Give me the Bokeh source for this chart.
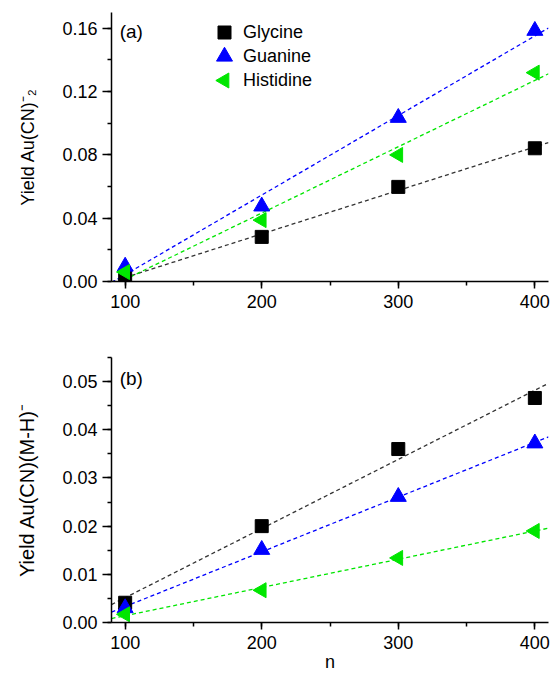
import numpy as np
from bokeh.plotting import figure
from bokeh.layouts import column
from bokeh.models import (Range1d, Legend, LegendItem, Label, SingleIntervalTicker,
                          NumeralTickFormatter)
from bokeh.embed import file_html
from bokeh.resources import INLINE

# ---- data ----
n_values = [100, 200, 300, 400]
glycine_a = [0.0030, 0.0282, 0.0598, 0.0842]
guanine_a = [0.0095, 0.0475, 0.1035, 0.1585]
histidine_a = [0.0060, 0.0388, 0.0800, 0.1320]
glycine_b = [0.0041, 0.0200, 0.0360, 0.0466]
guanine_b = [0.0030, 0.0151, 0.0261, 0.0372]
histidine_b = [0.0017, 0.0067, 0.0134, 0.0190]
series_names = ["Glycine", "Guanine", "Histidine"]

FONT = "Liberation Sans"
COLORS = ["#000000", "#0000ff", "#00e600"]
LINE_COLORS = ["#333333", "#0000ff", "#00e600"]
MARKERS = ["square", "triangle", "triangle"]
SIZES = [13, 16, 15]
ANGLES = [0.0, 0.0, np.pi / 2]
X0, X1 = 90, 410

W = 551
BORDER_L, BORDER_R = 111, 3
FRAME_W = W - BORDER_L - BORDER_R


def style(p, ymax, yint, ylabel, ylabel_size, xlabel=None):
    p.x_range = Range1d(X0, X1)
    p.y_range = Range1d(0, ymax)
    p.outline_line_color = None
    p.grid.visible = False
    p.background_fill_color = "white"
    p.border_fill_color = "white"
    xa = p.xaxis[0]
    ya = p.yaxis[0]
    xa.ticker = SingleIntervalTicker(interval=100, num_minor_ticks=2)
    ya.ticker = SingleIntervalTicker(interval=yint, num_minor_ticks=2)
    ya.formatter = NumeralTickFormatter(format="0.00")
    for ax in (xa, ya):
        ax.axis_line_width = 1.5
        ax.axis_line_color = "black"
        ax.major_tick_line_width = 1.5
        ax.minor_tick_line_width = 1.5
        ax.major_tick_line_color = "black"
        ax.minor_tick_line_color = "black"
        ax.major_tick_in = 0
        ax.minor_tick_in = 0
        ax.major_label_text_font = FONT
        ax.major_label_text_font_size = "18px"
        ax.major_label_text_color = "black"
        ax.axis_label_text_font = FONT
        ax.axis_label_text_font_size = "18px"
        ax.axis_label_text_font_style = "normal"
        ax.axis_label_text_color = "black"
    ya.axis_label = ylabel
    ya.axis_label_text_font_size = ylabel_size
    ya.major_tick_out = 9
    ya.minor_tick_out = 4
    ya.major_label_standoff = 5
    ya.axis_label_standoff = 21
    xa.major_tick_out = 7
    xa.minor_tick_out = 4
    xa.major_label_standoff = 6
    if xlabel:
        xa.axis_label = xlabel
        xa.axis_label_standoff = 0


def add_series(p, ys_list):
    xs = np.array(n_values, dtype=float)
    xfit = np.array([X0, X1], dtype=float)
    for i, ys in enumerate(ys_list):
        k, b = np.polyfit(xs, np.array(ys), 1)
        p.line(xfit, k * xfit + b, line_color=LINE_COLORS[i], line_width=1.3,
               line_dash="4 3")
    for i, ys in enumerate(ys_list):
        p.scatter(n_values, ys, marker=MARKERS[i], size=SIZES[i], angle=ANGLES[i],
                  fill_color=COLORS[i], line_color=COLORS[i])


# ---- top panel ----
H1 = 335
FRAME_TOP_A = 12
FRAME_H_A = 269
pa = figure(width=W, height=H1, output_backend="svg", toolbar_location=None,
            min_border_left=BORDER_L, min_border_right=BORDER_R,
            min_border_top=FRAME_TOP_A, min_border_bottom=H1 - FRAME_TOP_A - FRAME_H_A)
style(pa, 0.17, 0.04, "Yield Au(CN)\u207b\u2082", "18px")
add_series(pa, [glycine_a, guanine_a, histidine_a])

# legend: Bokeh lays out rows and labels; keys drawn at full marker size on a pixel range
ROW = 24
LEG_X = 101          # px from frame left to legend box
LEG_TOP = 8          # px from frame top to legend box
dummies = [pa.scatter([], [], marker=MARKERS[i], fill_alpha=0, line_alpha=0)
           for i in range(3)]
legend = Legend(items=[LegendItem(label=series_names[i], renderers=[dummies[i]])
                       for i in range(3)],
                location=(LEG_X, FRAME_H_A - LEG_TOP - 3 * ROW),
                border_line_color=None, background_fill_alpha=0,
                glyph_width=ROW, glyph_height=ROW, spacing=0, padding=0, margin=0,
                label_standoff=7, label_text_font=FONT, label_text_font_size="18px",
                label_text_color="black")
pa.add_layout(legend)
pa.extra_x_ranges = {"px": Range1d(0, FRAME_W)}
pa.extra_y_ranges = {"px": Range1d(0, FRAME_H_A)}
for i in range(3):
    pa.scatter([LEG_X + ROW / 2], [FRAME_H_A - LEG_TOP - ROW / 2 - i * ROW],
               x_range_name="px", y_range_name="px", marker=MARKERS[i],
               size=SIZES[i], angle=ANGLES[i], fill_color=COLORS[i],
               line_color=COLORS[i])

pa.add_layout(Label(x=96, y=0.158, text="(a)", text_baseline="middle",
                    text_font=FONT, text_font_size="19px", text_color="black"))

# ---- bottom panel ----
H2 = 674 - H1
FRAME_TOP_B = 357 - H1
pb = figure(width=W, height=H2, output_backend="svg", toolbar_location=None,
            min_border_left=BORDER_L, min_border_right=BORDER_R,
            min_border_top=FRAME_TOP_B, min_border_bottom=49)
style(pb, 0.055, 0.01, "Yield Au(CN)(M-H)\u207b", "20px", xlabel="n")
add_series(pb, [glycine_b, guanine_b, histidine_b])
pb.add_layout(Label(x=96, y=0.0506, text="(b)", text_baseline="middle",
                    text_font=FONT, text_font_size="19px", text_color="black"))

layout = column(pa, pb, spacing=0)
open("out.html", "w").write(file_html(layout, INLINE))
